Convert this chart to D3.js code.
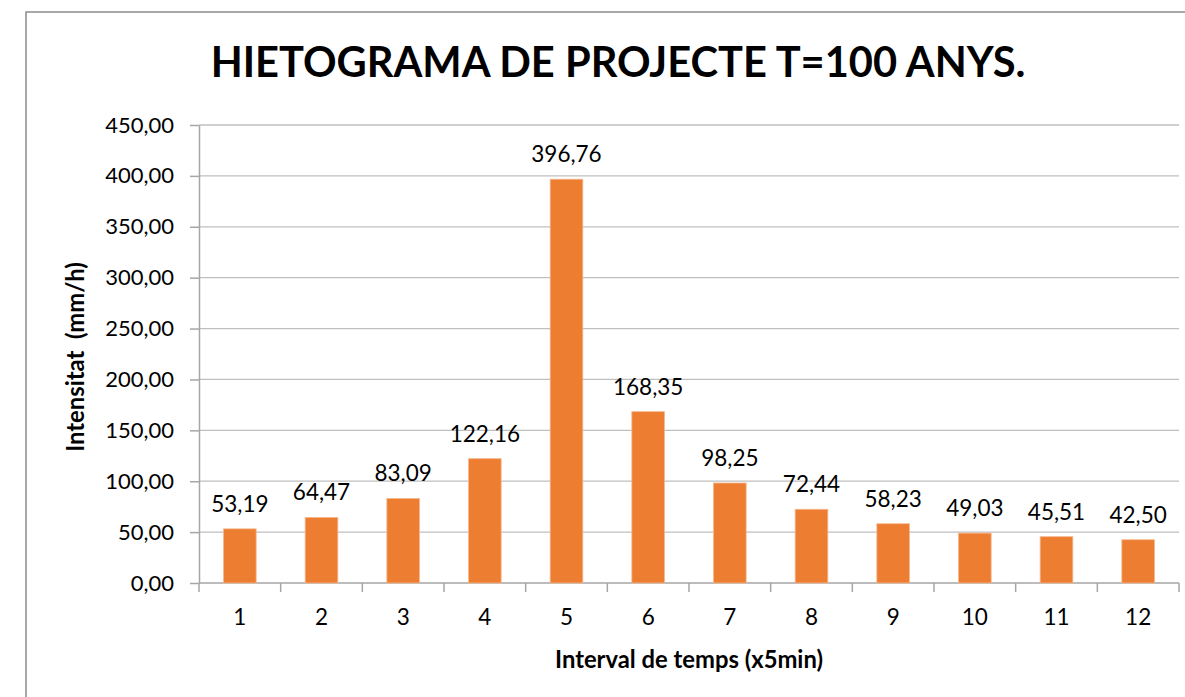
<!DOCTYPE html>
<html>
<head>
<meta charset="utf-8">
<script src="https://cdn.jsdelivr.net/npm/d3@7"></script>
<style>
  body { margin: 0; background: #fff; }
  svg text { font-family: "Lato", "Open Sans", sans-serif; fill: #000; }
  .grid line { stroke: #bfbfbf; stroke-width: 1.3; }
  .axis path, .axis line { stroke: #a6a6a6; stroke-width: 1.5; }
</style>
</head>
<body>
<div id="chart"></div>
<script>
// chart data
var categories = ["1", "2", "3", "4", "5", "6", "7", "8", "9", "10", "11", "12"];
var intensities = [53.19, 64.47, 83.09, 122.16, 396.76, 168.35, 98.25, 72.44, 58.23, 49.03, 45.51, 42.50];
var yTicks = [0, 50, 100, 150, 200, 250, 300, 350, 400, 450];

var width = 1185, height = 697;
var plot = {left: 199, right: 1179, top: 125, bottom: 583};

var fmt = function(v) { return d3.format(".2f")(v).replace(".", ","); };

var svg = d3.select("#chart").append("svg")
    .attr("width", width)
    .attr("height", height);

// chart frame
svg.append("rect")
    .attr("x", 26).attr("y", 12)
    .attr("width", 1200).attr("height", 720)
    .attr("fill", "#fff")
    .attr("stroke", "#8c8c8c")
    .attr("stroke-width", 1.5);

var x = d3.scaleBand()
    .domain(categories)
    .range([plot.left, plot.right])
    .paddingInner(0.6)
    .paddingOuter(0.3);

var xOuter = d3.scaleBand()
    .domain(categories)
    .range([plot.left, plot.right]);

var y = d3.scaleLinear()
    .domain([0, 450])
    .range([plot.bottom, plot.top]);

// gridlines
svg.append("g")
    .attr("class", "grid")
    .selectAll("line")
    .data(yTicks.filter(function(d) { return d > 0; }))
    .join("line")
    .attr("x1", plot.left).attr("x2", plot.right)
    .attr("y1", function(d) { return y(d); })
    .attr("y2", function(d) { return y(d); });

// y axis
var yAxis = svg.append("g")
    .attr("class", "axis")
    .attr("transform", "translate(" + plot.left + ",0)")
    .call(d3.axisLeft(y).tickValues(yTicks).tickFormat(fmt).tickSize(9).tickSizeOuter(0).tickPadding(16));
yAxis.selectAll("text")
    .style("font-size", "22px")
    .attr("fill", "#000");

// x axis, ticks at category boundaries
var xAxis = svg.append("g")
    .attr("class", "axis")
    .attr("transform", "translate(0," + plot.bottom + ")");
xAxis.append("line")
    .attr("x1", plot.left).attr("x2", plot.right);
xAxis.selectAll(".tk")
    .data(categories)
    .join("line")
    .attr("class", "tk")
    .attr("x1", function(d) { return xOuter(d) + xOuter.bandwidth(); })
    .attr("x2", function(d) { return xOuter(d) + xOuter.bandwidth(); })
    .attr("y1", 0).attr("y2", 9);
xAxis.append("line")
    .attr("x1", plot.left).attr("x2", plot.left)
    .attr("y1", 0).attr("y2", 9);
xAxis.selectAll(".lbl")
    .data(categories)
    .join("text")
    .attr("class", "lbl")
    .attr("x", function(d) { return x(d) + x.bandwidth() / 2; })
    .attr("y", 42)
    .attr("text-anchor", "middle")
    .style("font-size", "22.5px")
    .text(function(d) { return d; });

// bars
svg.append("g")
    .selectAll("rect")
    .data(intensities)
    .join("rect")
    .attr("x", function(d, i) { return x(categories[i]); })
    .attr("y", function(d) { return y(d); })
    .attr("width", x.bandwidth())
    .attr("height", function(d) { return plot.bottom - y(d); })
    .attr("fill", "#ed7d31")
    .attr("stroke", "#f5b88f")
    .attr("stroke-width", 0.8);

// value labels
svg.append("g")
    .selectAll("text")
    .data(intensities)
    .join("text")
    .attr("x", function(d, i) { return x(categories[i]) + x.bandwidth() / 2; })
    .attr("y", function(d) { return y(d) - 17; })
    .attr("text-anchor", "middle")
    .style("font-size", "22.5px")
    .text(fmt);

// title
svg.append("text")
    .attr("x", 618)
    .attr("y", 77)
    .attr("text-anchor", "middle")
    .style("font-size", "41.6px")
    .style("font-weight", "bold")
    .text("HIETOGRAMA DE PROJECTE T=100 ANYS.");

// axis titles
svg.append("text")
    .attr("x", 689)
    .attr("y", 668)
    .attr("text-anchor", "middle")
    .style("font-size", "23.8px")
    .style("font-weight", "bold")
    .text("Interval de temps (x5min)");

svg.append("text")
    .attr("transform", "translate(84,357) rotate(-90)")
    .attr("text-anchor", "middle")
    .style("font-size", "23.8px")
    .style("font-weight", "bold")
    .style("white-space", "pre")
    .text("Intensitat  (mm/h)");
</script>
</body>
</html>
